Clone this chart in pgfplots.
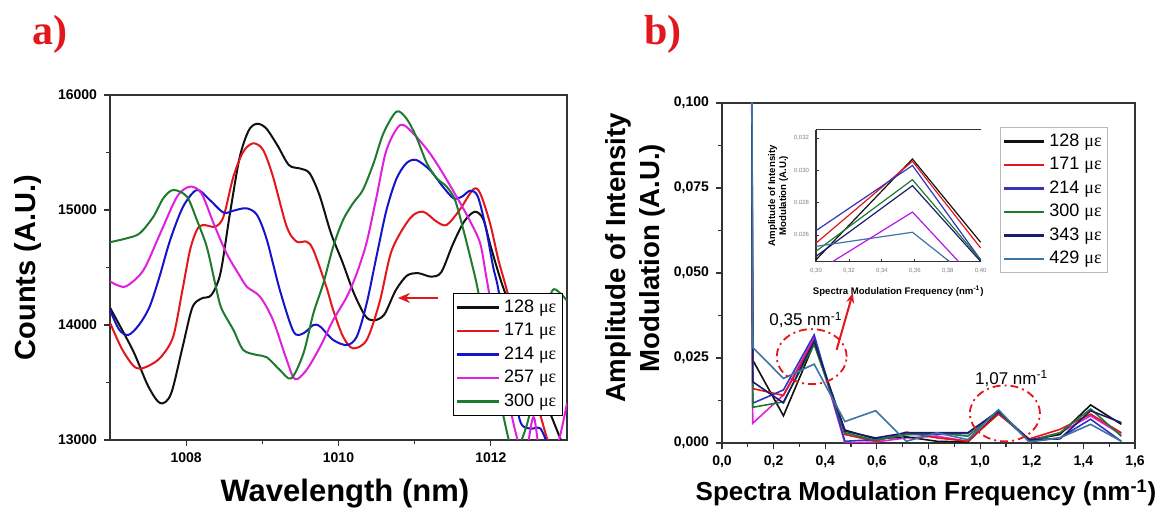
\documentclass[border=0pt]{standalone}
\usepackage{fontspec}
\setmainfont{Liberation Sans}
\newfontfamily\serif{Liberation Serif}
\usepackage{pgfplots}
\pgfplotsset{compat=1.18}
\usetikzlibrary{arrows.meta}

\definecolor{cblack}{HTML}{111111}
\definecolor{cred}{HTML}{E3161B}
\definecolor{cblue}{HTML}{1414C8}
\definecolor{cmag}{HTML}{E020DC}
\definecolor{cgreen}{HTML}{1E7A2E}
\definecolor{cnavy}{HTML}{1C1C6E}
\definecolor{csteel}{HTML}{3F73A6}
\definecolor{cblueb}{HTML}{3333C0}
\definecolor{axgray}{HTML}{333333}

\newcommand{\ue}{{\serif με}}

\pgfplotsset{
  panel/.style={
    scale only axis, anchor=south west,
    axis line style={axgray, line width=0.7pt},
    tick style={axgray, line width=0.6pt},
    tick align=outside, tick pos=left,
    major tick length=3pt, minor tick length=1.8pt,
    minor tick num=1,
    /pgf/number format/assume math mode=true,
    tick label style={font=\bfseries\fontsize{7}{8}\selectfont, text=black},
    scaled ticks=false,
  },
  spec/.style={smooth, tension=0.5, line width=1pt, no markers},
}

% panel a spectra
\pgfplotstableread{
x y
1007.00 14150
1007.30 13780
1007.50 13470
1007.66 13320
1007.80 13400
1007.95 13800
1008.08 14150
1008.20 14230
1008.33 14260
1008.45 14450
1008.57 14950
1008.70 15450
1008.82 15690
1008.93 15750
1009.05 15710
1009.20 15560
1009.35 15390
1009.50 15360
1009.62 15320
1009.75 15130
1009.90 14800
1010.05 14550
1010.20 14280
1010.35 14080
1010.46 14040
1010.60 14090
1010.75 14300
1010.90 14430
1011.05 14450
1011.22 14420
1011.35 14460
1011.50 14700
1011.65 14900
1011.79 14985
1011.90 14920
1012.00 14680
1012.15 14350
1012.40 13900
1012.65 13450
1012.95 12950
}\sA
\pgfplotstableread{
x y
1007.00 14020
1007.15 13800
1007.30 13650
1007.40 13620
1007.55 13660
1007.68 13730
1007.83 13900
1007.95 14300
1008.05 14650
1008.14 14826
1008.22 14870
1008.38 14855
1008.49 14942
1008.62 15290
1008.75 15507
1008.88 15580
1009.01 15522
1009.14 15290
1009.32 14855
1009.45 14725
1009.58 14725
1009.67 14652
1009.84 14333
1009.93 14130
1010.06 13899
1010.19 13797
1010.37 13870
1010.54 14200
1010.70 14650
1010.94 14928
1011.11 14985
1011.29 14898
1011.42 14870
1011.59 15000
1011.77 15180
1011.86 15145
1011.99 14884
1012.10 14565
1012.21 14304
1012.45 13700
1012.73 13029
1012.80 12900
}\sB
\pgfplotstableread{
x y
1007.00 14130
1007.12 13960
1007.24 13913
1007.38 14000
1007.52 14159
1007.65 14420
1007.79 14739
1007.96 15029
1008.14 15174
1008.31 15087
1008.49 14977
1008.62 14994
1008.79 15015
1008.93 14957
1009.06 14739
1009.23 14304
1009.41 13942
1009.54 13928
1009.67 14000
1009.76 13986
1009.93 13870
1010.11 13826
1010.24 13899
1010.37 14188
1010.50 14600
1010.63 15000
1010.76 15270
1010.89 15406
1011.02 15435
1011.20 15348
1011.37 15203
1011.51 15102
1011.62 15116
1011.73 15168
1011.83 15116
1011.94 14826
1012.03 14507
1012.10 14304
1012.25 13700
1012.38 13174
1012.51 13100
1012.65 13100
1012.75 12950
}\sC
\pgfplotstableread{
x y
1007.00 14380
1007.10 14345
1007.22 14339
1007.44 14478
1007.66 14797
1007.88 15116
1008.05 15203
1008.20 15145
1008.36 14884
1008.53 14623
1008.71 14420
1008.80 14330
1008.97 14246
1009.14 14043
1009.32 13696
1009.43 13528
1009.58 13609
1009.76 13812
1009.93 14043
1010.11 14246
1010.24 14450
1010.37 14720
1010.50 15116
1010.63 15522
1010.81 15739
1010.98 15667
1011.20 15493
1011.37 15319
1011.55 15116
1011.72 14913
1011.86 14710
1011.94 14420
1012.05 14000
1012.20 13450
1012.34 13029
1012.45 12850
1012.56 13200
1012.66 12850
1012.85 12900
1013.00 13320
}\sD
\pgfplotstableread{
x y
1007.00 14720
1007.22 14754
1007.39 14797
1007.57 14942
1007.70 15102
1007.83 15174
1008.01 15116
1008.14 14913
1008.27 14681
1008.38 14362
1008.46 14150
1008.62 13957
1008.75 13783
1008.93 13739
1009.06 13719
1009.23 13609
1009.38 13536
1009.54 13754
1009.67 14101
1009.80 14360
1009.93 14681
1010.06 14913
1010.19 15058
1010.32 15174
1010.46 15406
1010.59 15667
1010.76 15855
1010.89 15797
1011.02 15638
1011.16 15406
1011.29 15276
1011.42 15203
1011.53 15087
1011.64 14826
1011.75 14536
1011.83 14304
1012.00 13700
1012.15 13250
1012.30 12900
1012.50 13200
1012.65 13900
1012.80 14290
1012.91 14276
1013.00 14210
}\sE

% panel b amplitude spectra: x, 128, 171, 214, 300, 343, 429, (257)
\pgfplotstableread{
x      k      r      b      g      n      s      m
0.000  3      3      3      3      3      3      3
0.119  0.0244 0.0160 0.0117 0.0105 0.0180 0.0281 0.0058
0.238  0.0080 0.0140 0.0156 0.0121 0.0118 0.0190 0.0141
0.357  0.0293 0.0300 0.0318 0.0290 0.0300 0.0232 0.0310
0.476  0.0038 0.0025 0.0005 0.0030 0.0035 0.0063 0.0000
0.595  0.0012 0.0005 0.0010 0.0008 0.0015 0.0095 0.0003
0.714  0.0018 0.0032 0.0025 0.0025 0.0030 0.0005 0.0015
0.833  0.0005 0.0015 0.0025 0.0030 0.0030 0.0030 0.0020
0.952  0.0003 0.0005 0.0028 0.0020 0.0030 0.0010 0.0005
1.071  0.0090 0.0085 0.0095 0.0092 0.0093 0.0098 0.0088
1.190  0.0008 0.0012 0.0005 0.0005 0.0010 0.0003 0.0008
1.309  0.0025 0.0040 0.0015 0.0030 0.0012 0.0015 0.0030
1.428  0.0112 0.0085 0.0070 0.0100 0.0095 0.0055 0.0080
1.547  0.0055 0.0030 0.0005 0.0020 0.0060 0.0005 0.0025
}\fft

\begin{document}
\begin{tikzpicture}[x=1pt,y=1pt]
\path[use as bounding box] (0,0) rectangle (585.5,256.5);

\node[text=cred, font=\serif\bfseries\fontsize{21}{21}\selectfont] at (25,239.5) {a)};
\node[text=cred, font=\serif\bfseries\fontsize{21}{21}\selectfont] at (331.5,239.5) {b)};

% ---------------- a) ----------------
\begin{axis}[panel, at={(55pt,36.5pt)}, width=228.5pt, height=172.5pt,
  xmin=1007, xmax=1013, ymin=13000, ymax=16000,
  xtick={1008,1010,1012}, ytick={13000,14000,15000,16000},
  /pgf/number format/1000 sep={},
  xlabel={Wavelength (nm)}, ylabel={Counts (A.U.)},
  xlabel style={at={(axis description cs:0.514,-0.155)}, anchor=center,
    font=\bfseries\fontsize{15.5}{16}\selectfont},
  ylabel style={at={(axis description cs:-0.18,0.5)}, anchor=center,
    font=\bfseries\fontsize{14.5}{15}\selectfont},
  legend style={at={(0.991,0.07)}, anchor=south east, draw=black, line width=0.6pt,
    fill=white, font=\fontsize{9}{10}\selectfont, inner sep=1pt},
  legend cell align=left,
  legend image code/.code={\draw[#1, line width=1.3pt] (0pt,0pt) -- (21pt,0pt);},
]
\addplot[spec, cblack] table[x=x,y=y] {\sA};
\addplot[spec, cred]   table[x=x,y=y] {\sB};
\addplot[spec, cblue]  table[x=x,y=y] {\sC};
\addplot[spec, cmag]   table[x=x,y=y] {\sD};
\addplot[spec, cgreen] table[x=x,y=y] {\sE};
\legend{128 \ue, 171 \ue, 214 \ue, 257 \ue, 300 \ue}
\draw[cred, line width=1.3pt, -{Stealth[length=6pt,width=5pt]}]
  (axis cs:1011.3,14235) -- (axis cs:1010.78,14235);
\end{axis}

% ---------------- b) ----------------
\begin{axis}[panel, at={(361pt,35pt)}, width=206.5pt, height=170pt,
  xmin=0, xmax=1.6, ymin=0, ymax=0.1,
  xtick={0,0.2,0.4,0.6,0.8,1.0,1.2,1.4,1.6},
  ytick={0,0.025,0.05,0.075,0.1},
  x tick label style={/pgf/number format/.cd, fixed, fixed zerofill, precision=1, use comma},
  y tick label style={/pgf/number format/.cd, fixed, fixed zerofill, precision=3, use comma},
  xlabel={Spectra Modulation Frequency (nm\textsuperscript{-1})},
  ylabel={Amplitude of Intensity\\Modulation (A.U.)},
  xlabel style={at={(axis description cs:0.494,-0.147)}, anchor=center,
    font=\bfseries\fontsize{13}{14}\selectfont},
  ylabel style={at={(axis description cs:-0.21,0.544)}, anchor=center, align=center,
    font=\bfseries\fontsize{13.8}{17}\selectfont},
  legend style={at={(0.935,0.929)}, anchor=north east, draw=gray!55, line width=0.5pt,
    fill=white, font=\fontsize{9}{10}\selectfont, inner sep=1pt},
  legend cell align=left,
  legend image code/.code={\draw[#1, line width=1.3pt] (0pt,0pt) -- (20pt,0pt);},
  every axis plot/.append style={line width=0.8pt, no markers},
]
\addplot[cmag, forget plot] table[x=x,y=m] {\fft};
\addplot[cblack] table[x=x,y=k] {\fft};
\addplot[cred]   table[x=x,y=r] {\fft};
\addplot[cblueb] table[x=x,y=b] {\fft};
\addplot[cgreen] table[x=x,y=g] {\fft};
\addplot[cnavy]  table[x=x,y=n] {\fft};
\addplot[csteel] table[x=x,y=s] {\fft};
\legend{128 \ue, 171 \ue, 214 \ue, 300 \ue, 343 \ue, 429 \ue}
\draw[cred, line width=0.9pt, dash pattern=on 4pt off 2pt on 1pt off 2pt]
  (axis cs:0.3475,0.0254) ellipse [x radius=17.5pt, y radius=13.75pt];
\draw[cred, line width=0.9pt, dash pattern=on 4pt off 2pt on 1pt off 2pt]
  (axis cs:1.096,0.0087) ellipse [x radius=17.5pt, y radius=14pt];
\draw[cred, line width=1pt, -{Stealth[length=5pt,width=4pt]}]
  (axis cs:0.444,0.0274) -- (axis cs:0.507,0.0441);
\node[font=\fontsize{8.5}{9}\selectfont] at (axis cs:0.325,0.0362) {0,35 nm\textsuperscript{-1}};
\node[font=\fontsize{8.5}{9}\selectfont] at (axis cs:1.122,0.019) {1,07 nm\textsuperscript{-1}};
\end{axis}

% inset
\pgfplotstableread{
x      k       r       b       g       n
0.3000 0.02447 0.02550 0.02627 0.02500 0.02468
0.3586 0.03070 0.03056 0.03030 0.02942 0.02905
0.4000 0.02555 0.02520 0.02447 0.02447 0.02437
}\ins
\begin{axis}[at={(408pt,125.65pt)}, anchor=south west, scale only axis,
  width=82.3pt, height=65.9pt, clip=false,
  xmin=0.30, xmax=0.40, ymin=0.02435, ymax=0.0325,
  axis x line*=bottom, axis y line*=left,
  x axis line style={-}, y axis line style={-},
  axis line style={axgray, line width=0.6pt},
  tick style={axgray, line width=0.4pt},
  major tick length=1.5pt, tick align=inside,
  xtick={0.30,0.32,0.34,0.36,0.38,0.40}, ytick={0.026,0.028,0.030,0.032},
  scaled ticks=false,
  /pgf/number format/assume math mode=true,
  tick label style={font=\fontsize{3}{3}\selectfont, text=gray},
  x tick label style={/pgf/number format/.cd, fixed, fixed zerofill, precision=2, use comma},
  y tick label style={/pgf/number format/.cd, fixed, fixed zerofill, precision=3, use comma},
  xlabel={Spectra Modulation Frequency (nm\textsuperscript{-1})},
  ylabel={Amplitude of Intensity\\Modulation (A.U.)},
  xlabel style={font=\bfseries\fontsize{4.8}{5}\selectfont, yshift=1pt},
  ylabel style={align=center, font=\bfseries\fontsize{4.8}{5.5}\selectfont, yshift=-4pt},
  every axis plot/.append style={line width=0.6pt, no markers},
]
\addplot[cblack] table[x=x,y=k] {\ins};
\addplot[cred]   table[x=x,y=r] {\ins};
\addplot[cblueb] table[x=x,y=b] {\ins};
\addplot[cgreen] table[x=x,y=g] {\ins};
\addplot[cnavy]  table[x=x,y=n] {\ins};
\addplot[csteel] coordinates {(0.30,0.0253) (0.3586,0.02617) (0.3812,0.02435)};
\addplot[cmag!80!blue] coordinates {(0.31,0.02435) (0.3586,0.02742) (0.3867,0.02435)};
\draw[axgray, line width=0.6pt] (rel axis cs:0,1) -- (rel axis cs:1,1);
\end{axis}
\end{tikzpicture}
\end{document}
